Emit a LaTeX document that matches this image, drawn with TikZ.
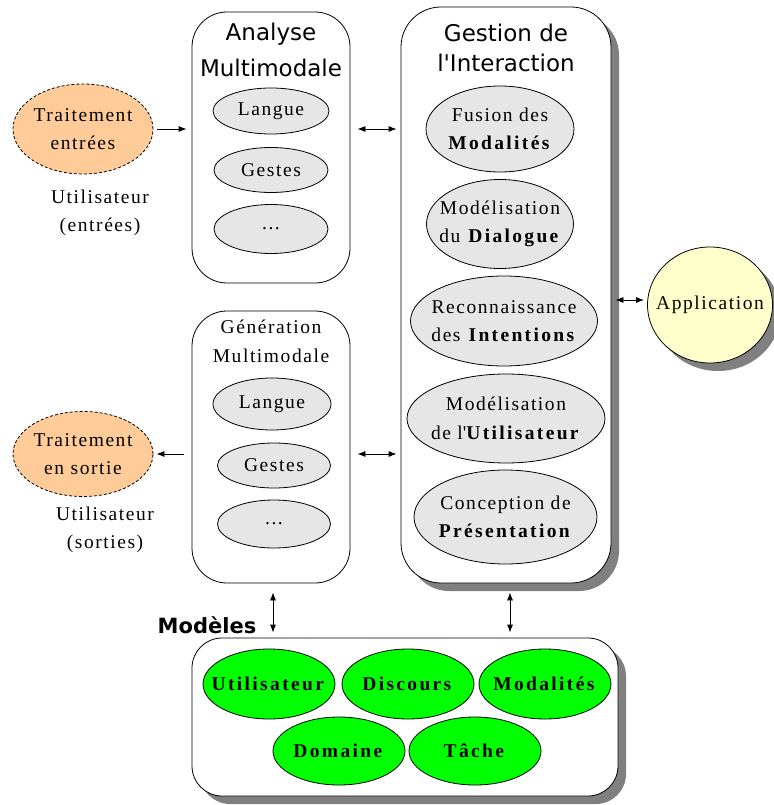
\documentclass[tikz,border=0pt]{standalone}
\usepackage{fontspec}
\setmainfont{Liberation Serif}[LetterSpace=8,BoldFeatures={LetterSpace=12}]
\newfontfamily\titlefont{DejaVu Sans}
\usetikzlibrary{shapes,arrows.meta,shadows}
\definecolor{orangeclair}{HTML}{FFCC99}
\definecolor{jauneclair}{HTML}{FFFFCC}
\definecolor{grisclair}{HTML}{E6E6E6}
\definecolor{vertvif}{HTML}{00FF00}
\tikzset{bloc/.style={draw,fill=white,rounded corners=35pt},
	ombre/.style={drop shadow={shadow xshift=8pt,shadow yshift=-8pt,fill=black!50,opacity=1}},
	ell/.style={shape=ellipse,draw,inner xsep=-40pt,inner ysep=-20pt,align=center},
	modnode/.style={ell,fill=grisclair},
	trnode/.style={ell,dash pattern=on 3pt off 2pt,fill=orangeclair},
	mdlnode/.style={ell,fill=vertvif,minimum width=132,minimum height=70},
	titre/.style={font=\titlefont\fontsize{23}{36}\selectfont,align=center},
	fl/.style={-{Latex[length=8pt,width=6pt]}},
	dfl/.style={{Latex[length=8pt,width=6pt]}-{Latex[length=8pt,width=6pt]}}}

\begin{document}
\begin{tikzpicture}[x=1pt,y=-1pt,line width=0.8pt]
	\fontsize{19.5}{28.5}\selectfont
	\useasboundingbox (0,0) rectangle (773,805);
	% blocs
	\node[bloc,minimum width=158,minimum height=271] (ana) at (271,147.5) {};
	\node[bloc,minimum width=158,minimum height=272] (gen) at (271,447) {};
	\node[bloc,ombre,rounded corners=40pt,minimum width=210,minimum height=576] (gest) at (506,295) {};
	\node[bloc,ombre,rounded corners=30pt,minimum width=426,minimum height=158] (mdl) at (405,717) {};
	%
	\node[titre] (tAna) at (271,50) {Analyse\\Multimodale};
	\node[modnode,minimum width=116,minimum height=46] (aLang) at (271,111) {Langue};
	\node[modnode,minimum width=114,minimum height=45] (aGest) at (271,170) {Gestes};
	\node[modnode,minimum width=114,minimum height=49] (aEtc) at (271,229) {...};
	%
	\node[align=center] (tGen) at (271,341.5) {Génération\\Multimodale};
	\node[modnode,minimum width=118,minimum height=52] (gLang) at (272,404) {Langue};
	\node[modnode,minimum width=113,minimum height=45] (gGest) at (274,465.5) {Gestes};
	\node[modnode,minimum width=113,minimum height=48] (gEtc) at (274,524) {...};
	%
	\node[titre,font=\titlefont\fontsize{23}{30}\selectfont] (tGest) at (506,48) {Gestion de\\l'Interaction};
	\node[modnode,minimum width=148,minimum height=86] (fus) at (500,129) {Fusion des\\\textbf{Modalités}};
	\node[modnode,minimum width=147,minimum height=89] (dia) at (500,224) {Modélisation\\du \textbf{Dialogue}};
	\node[modnode,minimum width=187,minimum height=90] (int) at (504,321) {Reconnaissance\\des \textbf{Intentions}};
	\node[modnode,minimum width=198,minimum height=89] (uti) at (506,418.5) {Modélisation\\de l\textquotesingle\textbf{Utilisateur}};
	\node[modnode,minimum width=183,minimum height=94] (pre) at (505.5,517) {Conception de\\\textbf{Présentation}};
	%
	\node[trnode,minimum width=140,minimum height=90] (trE) at (83,129) {Traitement\\entrées};
	\node[align=center] (uE) at (100,213) {Utilisateur\\(entrées)};
	\node[trnode,minimum width=140,minimum height=85] (trS) at (83,454) {Traitement\\en sortie};
	\node[align=center] (uS) at (105,530) {Utilisateur\\(sorties)};
	%
	\node[ell,fill=jauneclair,ombre,minimum width=125,minimum height=116] (app) at (710,305) {Application};
	%
	\node[font=\titlefont\bfseries\fontsize{21}{25}\selectfont] (tMdl) at (207,625) {Modèles};
	\node[mdlnode] (mUti) at (269,684) {\textbf{Utilisateur}};
	\node[mdlnode] (mDis) at (408,684) {\textbf{Discours}};
	\node[mdlnode] (mMod) at (545,684) {\textbf{Modalités}};
	\node[mdlnode,minimum height=68] (mDom) at (339,751) {\textbf{Domaine}};
	\node[mdlnode,minimum height=68] (mTac) at (475,751) {\textbf{Tâche}};
	%
	\draw[fl,shorten <=4pt,shorten >=5pt] (trE) -- (ana.west |- trE);
	\draw[fl,shorten <=8pt,shorten >=3pt] (gen.west |- trS) -- (trS);
	\draw[dfl,shorten <=7pt,shorten >=4pt] (ana.east |- fus) -- (gest.west |- fus);
	\draw[dfl,shorten <=7pt,shorten >=4pt] (gen.east |- trS) -- (gest.west |- trS);
	\draw[dfl,shorten <=4pt,shorten >=3pt] ([yshift=5pt]gest.east |- app) -- ([yshift=5pt]app.west);
	\draw[dfl,shorten <=9pt,shorten >=5pt] ([xshift=2pt]gen.south) -- ([xshift=2pt]gen.south |- mdl.north);
	\draw[dfl,shorten <=9pt,shorten >=5pt] ([xshift=4pt]gest.south) -- ([xshift=4pt]gest.south |- mdl.north);
\end{tikzpicture}
\end{document}
